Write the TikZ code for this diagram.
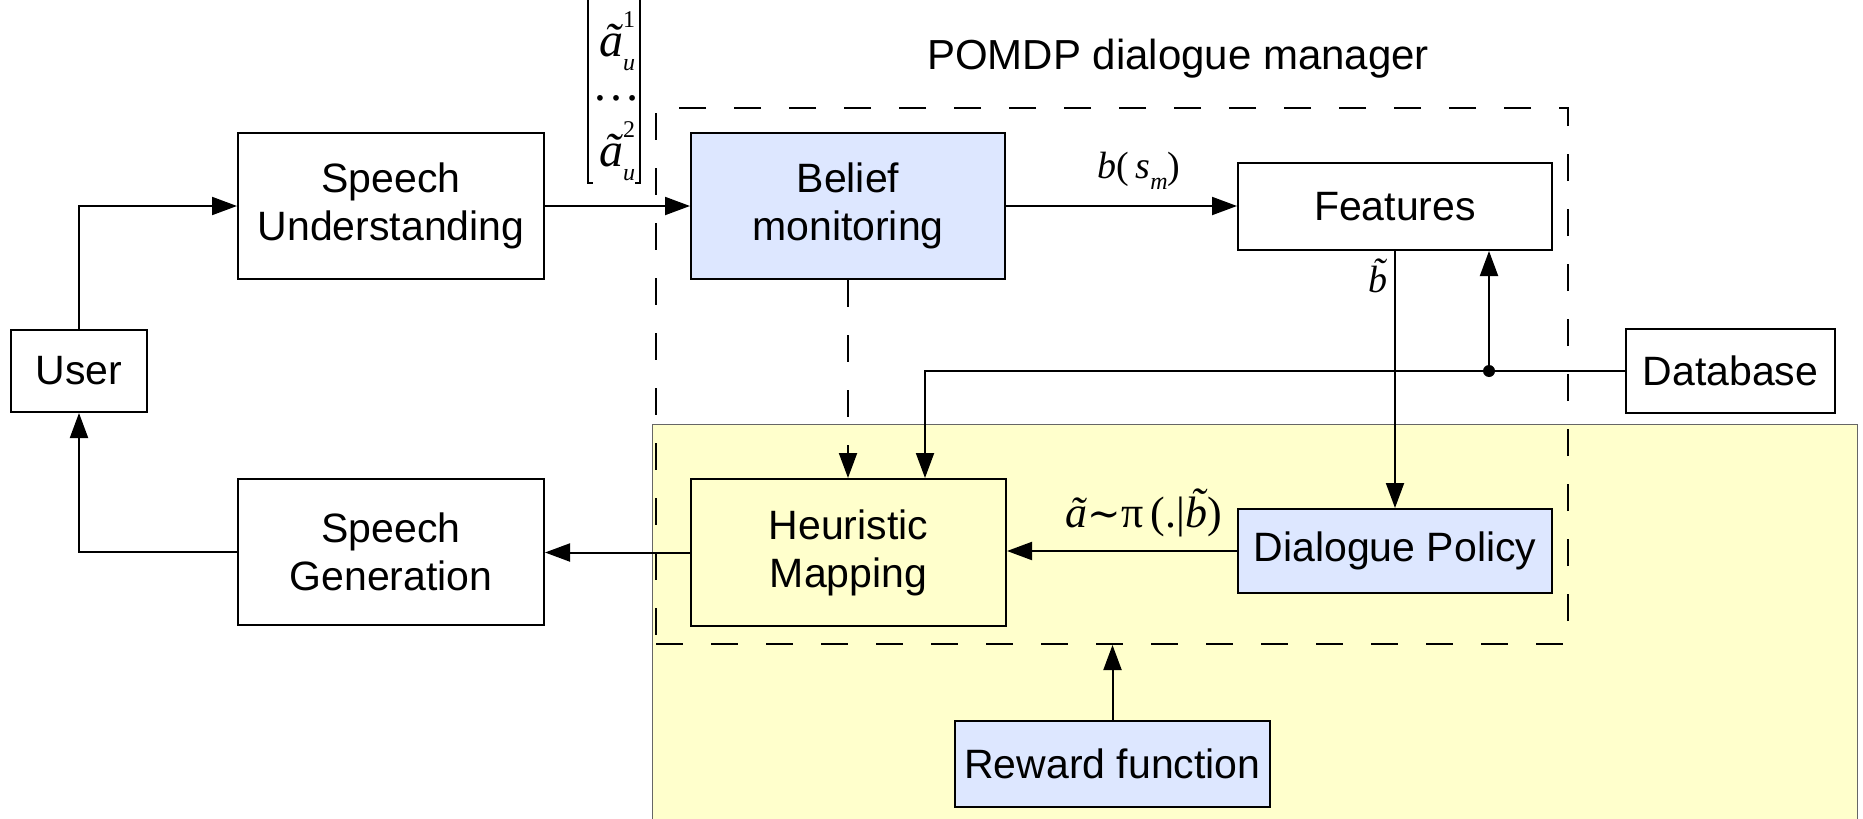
\documentclass[tikz,border=0pt]{standalone}
\usepackage{fontspec}
\setmainfont{Liberation Sans}
\newfontfamily\tms{Liberation Serif}
\newfontfamily\dvs{DejaVu Serif}
\usetikzlibrary{arrows.meta}
\definecolor{blu}{RGB}{221,231,255}
\definecolor{yel}{RGB}{255,255,204}
\newcommand\smallsz{\fontsize{24}{24}\selectfont}
\newcommand\au[1]{\~a\rlap{\raisebox{0.6em}{\smallsz\upshape #1}}\raisebox{-0.3em}{\smallsz u}}
\begin{document}
\begin{tikzpicture}[x=1pt,y=-1pt,line width=2pt,
  box/.style={draw,line width=2pt,inner sep=0pt,align=center,font=\fontsize{41}{48}\selectfont},
  arr/.style={-{Triangle[length=25pt,width=18pt]},line width=2pt},
  dsh/.style={dash pattern=on 27pt off 28pt,line width=2pt},
  mth/.style={inner sep=0pt,font=\tms\fontsize{38}{44}\selectfont},
  mtx/.style={inner sep=0pt,font=\tms\fontsize{48}{50}\selectfont}]
\useasboundingbox (0,0) rectangle (1863,819);
% yellow region
\fill[yel] (652,424) rectangle (1857,830);
\draw[black!60,line width=1pt] (652,830) |- (1857,424) -- (1857,830);
% dashed POMDP box
\node[draw,dsh,minimum width=912pt,minimum height=536pt,inner sep=0pt] (pomdp) at (1112,376) {};
\node[font=\fontsize{42}{48}\selectfont] (plabel) at (1178,59) {POMDP dialogue manager};
% boxes
\node[box,minimum width=136pt,minimum height=82pt] (user) at (79,371) {User};
\node[box,minimum width=306pt,minimum height=146pt] (su) at (391,206) {Speech\\Understanding};
\node[box,minimum width=306pt,minimum height=146pt] (sg) at (391,552) {Speech\\Generation};
\node[box,fill=blu,minimum width=314pt,minimum height=146pt] (bel) at (848,206) {Belief\\monitoring};
\node[box,fill=white,minimum width=314pt,minimum height=87pt] (feat) at (1395,206.5) {Features};
\node[box,fill=white,minimum width=209pt,minimum height=84pt] (db) at (1730.5,371) {Database};
\node[box,fill=yel,minimum width=315pt,minimum height=147pt] (hm) at (848.5,552.5) {Heuristic\\Mapping};
\node[box,fill=blu,minimum width=314pt,minimum height=84pt] (pol) at (1395,551) {Dialogue Policy};
\node[box,fill=blu,minimum width=315pt,minimum height=86pt] (rew) at (1112.5,764) {Reward function};
% matrix of hypotheses
\draw[line width=2pt] (588,-5) -- (588,183) -- (593,183);
\draw[line width=2pt] (640,-5) -- (640,183) -- (635,183);
\node[mtx,anchor=base west] (a1) at (598,56) {\itshape\au{1}};
\node[mtx] (dots) at (616,98) {\dots};
\node[mtx,anchor=base west] (a2) at (598,166) {\itshape\au{2}};
% connectors
\draw[arr] (user.north) |- (su.west);
\draw[arr] (sg.west) -| (user.south);
\draw[arr] (su.east) -- (bel.west);
\draw[arr] (bel.east) -- (bel.east -| feat.west);
\draw[arr] (hm.west) -- (hm.west -| sg.east);
\draw[arr] (pol.west) -- (pol.west -| hm.east);
\draw[arr] (feat.south) -- (pol.north);
\coordinate (dot) at (1489,371);
\draw[arr] (db.west) -| ([xshift=76.5pt]hm.north);
\draw[arr] (dot) -- (dot |- feat.south);
\fill (dot) circle (6pt);
\draw[arr,dsh] (bel.south) -- (bel.south |- hm.north);
\draw[arr] (rew.north) -- (rew.north |- pomdp.south);
% labels
\node[mth,anchor=base] (lbs) at (1139,178) {\itshape b\upshape(\,\itshape s\raisebox{-0.3em}{\fontsize{24}{24}\selectfont m}\upshape)};
\node[mth,anchor=base] (lbt) at (1378,292) {\itshape\~b};
\node[mth,anchor=base,font=\tms\fontsize{44}{48}\selectfont] (lpi) at (1144,527) {\itshape\~a\upshape{\dvs\fontsize{40}{44}\selectfont ∼}π\,(.|\itshape\~b\upshape)};
\end{tikzpicture}
\end{document}
